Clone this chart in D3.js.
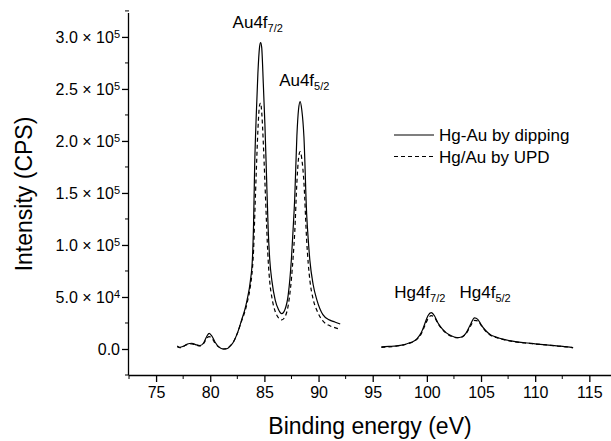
<!DOCTYPE html>
<html>
<head>
<meta charset="utf-8">
<script src="https://cdn.jsdelivr.net/npm/d3@7"></script>
<style>
  html, body { margin: 0; padding: 0; background: #fff; }
  svg { display: block; font-family: "Liberation Sans", Arial, Helvetica, sans-serif; }
</style>
</head>
<body>
<svg id="chart" width="611" height="441"></svg>
<script>
// Au 4f region: binding energy grid (eV) and intensities (CPS)
const energyAu = [76.95, 77.2, 77.5, 77.9, 78.3, 78.7, 79.05, 79.4, 79.7, 79.9, 80.15, 80.45, 80.8, 81.2, 81.6, 81.8, 82.1, 82.5, 82.9, 83.2, 83.4, 83.7, 83.9, 84.0, 84.1, 84.25, 84.4, 84.55, 84.65, 84.75, 84.9, 85.05, 85.2, 85.35, 85.5, 85.7, 86.0, 86.3, 86.6, 86.9, 87.2, 87.5, 87.65, 87.8, 88.0, 88.15, 88.3, 88.45, 88.65, 88.9, 89.05, 89.2, 89.5, 89.85, 90.4, 91.0, 91.5, 92.0];
const dippingAu = [2900, 1600, 2500, 4800, 5500, 4000, 3300, 6000, 12500, 15000, 12500, 6500, 2000, 0, 500, 2500, 6000, 15000, 28000, 38000, 47000, 65000, 88000, 120000, 175000, 225000, 265000, 290000, 294500, 290000, 255000, 215000, 165000, 115000, 85000, 65000, 47000, 38000, 34000, 38000, 52000, 87500, 115000, 145000, 205000, 230000, 237800, 230000, 204000, 130000, 105000, 85000, 62000, 47000, 33000, 28000, 26000, 24000];
const updAu = [2200, 1200, 2300, 4500, 5000, 3800, 3000, 5500, 10500, 11800, 10500, 5500, 1800, 0, 500, 2500, 6000, 15000, 27000, 36000, 44000, 60000, 78000, 95000, 125000, 170000, 210000, 234000, 236500, 228000, 198000, 160000, 120000, 85000, 64000, 49000, 36000, 30000, 28000, 31000, 42000, 68000, 88000, 112000, 160000, 183000, 189700, 183000, 160000, 105000, 82000, 66000, 48000, 37000, 27000, 22500, 20500, 19000];

// Hg 4f region
const energyHg = [95.8, 96.5, 97.2, 97.8, 98.3, 98.7, 99.1, 99.5, 99.8, 100.1, 100.4, 100.7, 101.0, 101.4, 101.8, 102.3, 102.8, 103.2, 103.6, 104.0, 104.4, 104.7, 105.0, 105.4, 105.9, 106.4, 107.0, 107.9, 109.0, 110.0, 111.0, 112.0, 113.0, 113.5];
const dippingHg = [2000, 2500, 3000, 4000, 5500, 7000, 10000, 16000, 24000, 32000, 35000, 32000, 25500, 19500, 15500, 12500, 11000, 11500, 15000, 23000, 30000, 28500, 23500, 18000, 13500, 11500, 9500, 7500, 6000, 5000, 4000, 3000, 2000, 1300];
const updHg = [1500, 2000, 2800, 3800, 5200, 6800, 9500, 15000, 22000, 29000, 32000, 30500, 25000, 19000, 15000, 12000, 10800, 11200, 14500, 21500, 27500, 27000, 23000, 17500, 13000, 11000, 9200, 7300, 5800, 4800, 3900, 2900, 1900, 1200];

// Axis ticks and labels
const xTicks = [75, 80, 85, 90, 95, 100, 105, 110, 115];
const xMinorTicks = [72.5, 77.5, 82.5, 87.5, 92.5, 97.5, 102.5, 107.5, 112.5];
const yTicks = [0, 50000, 100000, 150000, 200000, 250000, 300000];
const yTickMantissa = ["0.0", "5.0", "1.0", "1.5", "2.0", "2.5", "3.0"];
const yTickExponent = [null, "4", "5", "5", "5", "5", "5"];
const yMinorTicks = [-25000, 25000, 75000, 125000, 175000, 225000, 275000, 325000];

const seriesNames = ["Hg-Au by dipping", "Hg/Au by UPD"];
const peakLabels = [
  { main: "Au4f", sub: "7/2", energy: 84.65, value: 294500 },
  { main: "Au4f", sub: "5/2", energy: 88.3, value: 237800 },
  { main: "Hg4f", sub: "7/2", energy: 100.4, value: 35000 },
  { main: "Hg4f", sub: "5/2", energy: 104.4, value: 30000 }
];

const svg = d3.select("#chart");
const plotLeft = 129, plotRight = 611, plotTop = 13, plotBottom = 375;

const x = d3.scaleLinear().domain([72.5, 117]).range([plotLeft, plotRight]);
const y = d3.scaleLinear().domain([-25000, 323000]).range([plotBottom, plotTop]);

const line = d3.line()
  .x(d => x(d[0]))
  .y(d => y(d[1]))
  .curve(d3.curveMonotoneX);

const dashArr = "4,3";
const segments = [
  { e: energyAu, v: dippingAu, dash: null },
  { e: energyAu, v: updAu, dash: dashArr },
  { e: energyHg, v: dippingHg, dash: null },
  { e: energyHg, v: updHg, dash: dashArr }
];
segments.forEach(s => {
  svg.append("path")
    .datum(d3.zip(s.e, s.v))
    .attr("d", line)
    .attr("fill", "none")
    .attr("stroke", "#000")
    .attr("stroke-width", 1.2)
    .attr("stroke-dasharray", s.dash);
});

// Bottom axis
const xAxis = svg.append("g").attr("transform", `translate(0,${plotBottom})`);
xAxis.call(d3.axisBottom(x).tickValues(xTicks).tickSize(7).tickPadding(5).tickFormat(d3.format("d")));
xAxis.append("g").selectAll("line").data(xMinorTicks).join("line")
  .attr("x1", d => x(d)).attr("x2", d => x(d)).attr("y1", 0).attr("y2", 4)
  .attr("stroke", "#000");
xAxis.select(".domain").attr("d", `M${plotLeft},0.5H${plotRight}`);

// Left axis
const yAxis = svg.append("g").attr("transform", `translate(${plotLeft},0)`);
yAxis.call(d3.axisLeft(y).tickValues(yTicks).tickSize(7).tickFormat(""));
yAxis.select(".domain").attr("d", `M-0.5,${plotTop}V${plotBottom}`);
yAxis.append("g").selectAll("line").data(yMinorTicks).join("line")
  .attr("x1", 0).attr("x2", -4).attr("y1", d => y(d)).attr("y2", d => y(d))
  .attr("stroke", "#000");

svg.selectAll(".domain, .tick line").attr("stroke", "#000").attr("stroke-width", 1.3);
xAxis.selectAll(".tick text").attr("font-size", 16).attr("fill", "#000").attr("font-family", "Liberation Sans, Arial, sans-serif");

// Y tick labels in scientific notation
const yLab = svg.append("g");
yTicks.forEach((t, i) => {
  const txt = yLab.append("text")
    .attr("x", plotLeft - 9)
    .attr("y", y(t))
    .attr("dy", "0.36em")
    .attr("text-anchor", "end")
    .attr("font-size", 16)
    .attr("fill", "#000");
  if (yTickExponent[i]) {
    txt.append("tspan").text(yTickMantissa[i] + " \u00d7 10");
    txt.append("tspan").attr("font-size", 11).attr("dy", "-0.45em").text(yTickExponent[i]);
  } else {
    txt.text(yTickMantissa[i]);
  }
});

// Axis titles
svg.append("text")
  .attr("x", (plotLeft + plotRight) / 2)
  .attr("y", 434)
  .attr("text-anchor", "middle")
  .attr("font-size", 23)
  .text("Binding energy (eV)");
svg.append("text")
  .attr("transform", `translate(32,${(plotTop + plotBottom) / 2}) rotate(-90)`)
  .attr("text-anchor", "middle")
  .attr("font-size", 23)
  .text("Intensity (CPS)");

// Peak labels
const labelOffsets = [[-28, -15], [-21, -16], [-37, -15], [-15, -20]];
peakLabels.forEach((p, i) => {
  const t = svg.append("text")
    .attr("x", x(p.energy) + labelOffsets[i][0])
    .attr("y", y(p.value) + labelOffsets[i][1])
    .attr("font-size", 17)
    .attr("fill", "#000");
  t.append("tspan").text(p.main);
  t.append("tspan").attr("font-size", 11).attr("dy", "0.4em").text(p.sub);
});

// Legend
const legend = svg.append("g").attr("transform", "translate(394,135)");
seriesNames.forEach((name, i) => {
  const g = legend.append("g").attr("transform", `translate(0,${i * 21.5})`);
  g.append("line").attr("x1", 0).attr("x2", 40).attr("y1", 0).attr("y2", 0)
    .attr("stroke", "#000").attr("stroke-width", 1.2)
    .attr("stroke-dasharray", i === 1 ? dashArr : null);
  g.append("text").attr("x", 45).attr("y", 0).attr("dy", "0.36em")
    .attr("font-size", 17).text(name);
});
</script>
</body>
</html>
